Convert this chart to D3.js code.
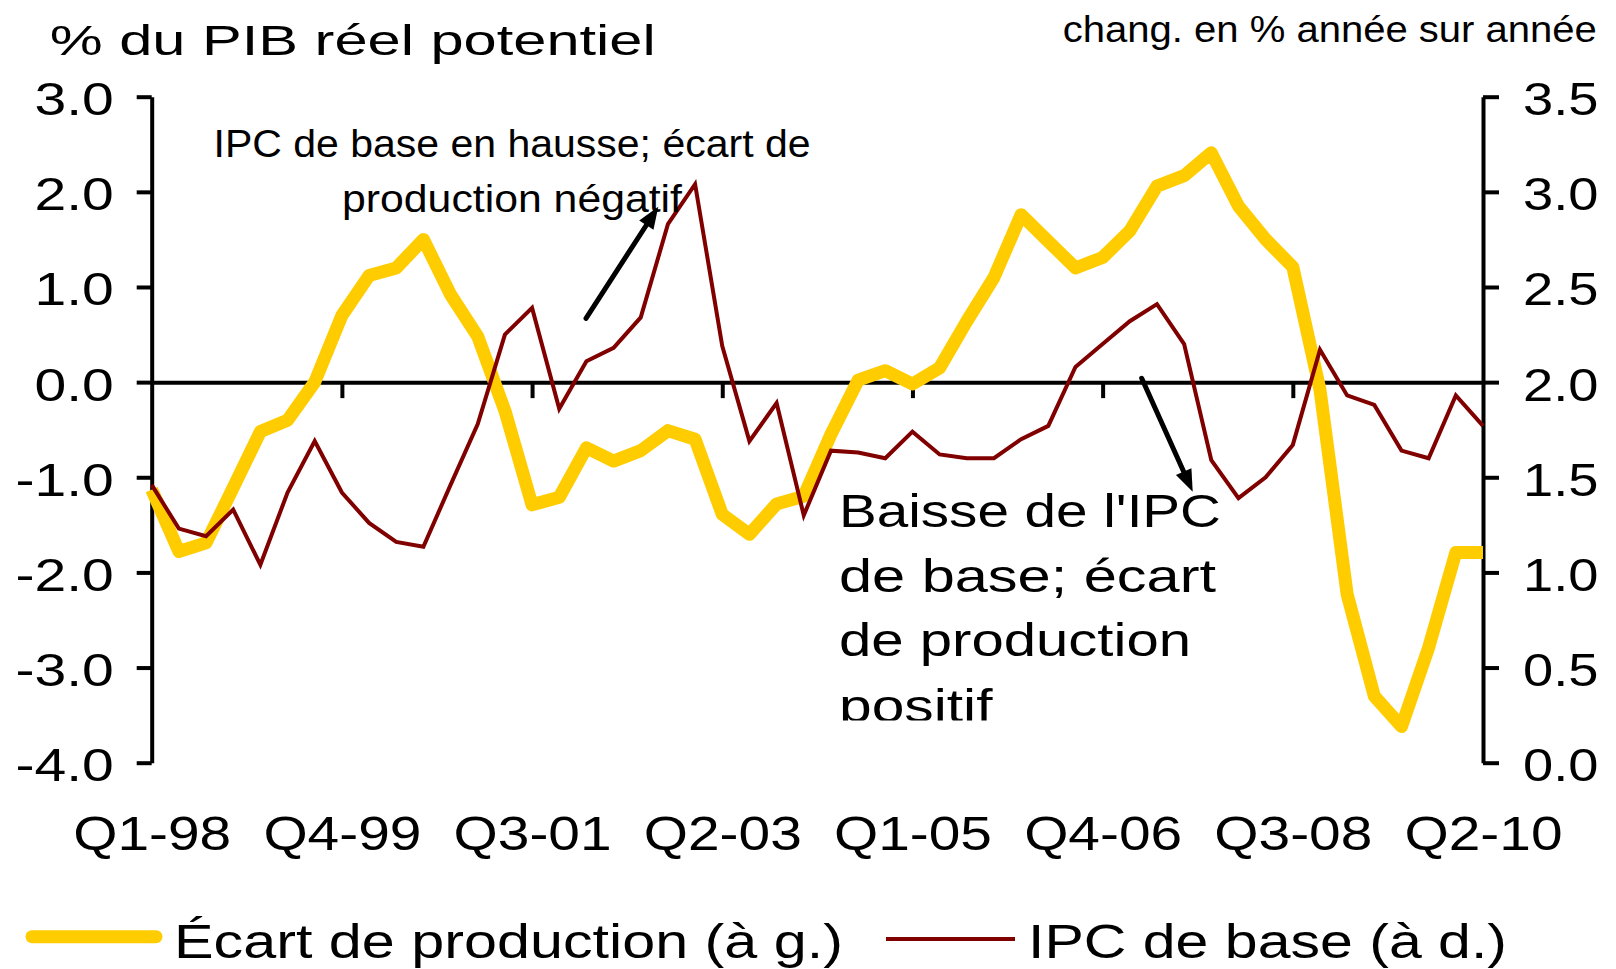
<!DOCTYPE html>
<html>
<head>
<meta charset="utf-8">
<script src="https://cdn.jsdelivr.net/npm/d3@7"></script>
<style>
body{margin:0;background:#fff;}
text{font-family:"Liberation Sans",Arial,sans-serif;fill:#000;}
</style>
</head>
<body>
<svg id="chart"></svg>
<script>
// quarters Q1-98 .. Q2-10
quarters=["Q1-98","Q2-98","Q3-98","Q4-98","Q1-99","Q2-99","Q3-99","Q4-99",
          "Q1-00","Q2-00","Q3-00","Q4-00","Q1-01","Q2-01","Q3-01","Q4-01",
          "Q1-02","Q2-02","Q3-02","Q4-02","Q1-03","Q2-03","Q3-03","Q4-03",
          "Q1-04","Q2-04","Q3-04","Q4-04","Q1-05","Q2-05","Q3-05","Q4-05",
          "Q1-06","Q2-06","Q3-06","Q4-06","Q1-07","Q2-07","Q3-07","Q4-07",
          "Q1-08","Q2-08","Q3-08","Q4-08","Q1-09","Q2-09","Q3-09","Q4-09",
          "Q1-10","Q2-10"];
labelQuarters=["Q1-98","Q4-99","Q3-01","Q2-03","Q1-05","Q4-06","Q3-08","Q2-10"];
// output gap, % of potential real GDP (left axis)
ecart=[-1.13,-1.78,-1.69,-1.11,-0.52,-0.40,0.00,0.70,1.12,1.20,
       1.50,0.92,0.48,-0.30,-1.29,-1.21,-0.69,-0.83,-0.72,-0.51,
       -0.60,-1.39,-1.60,-1.28,-1.20,-0.55,0.02,0.12,-0.02,0.15,
       0.64,1.10,1.76,1.48,1.20,1.31,1.59,2.06,2.17,2.41,
       1.85,1.50,1.21,-0.08,-2.23,-3.30,-3.62,-2.79,-1.79,-1.79];
// core CPI, y/y % change (right axis)
ipc=[1.46,1.23,1.19,1.33,1.04,1.42,1.69,1.42,1.26,1.16,
     1.135,1.46,1.78,2.25,2.39,1.86,2.11,2.18,2.34,2.83,
     3.04,2.19,1.69,1.89,1.30,1.64,1.63,1.60,1.74,1.62,
     1.60,1.60,1.70,1.77,2.08,2.20,2.32,2.41,2.20,1.59,
     1.39,1.50,1.67,2.17,1.93,1.88,1.64,1.60,1.93,1.77];
leftTicks=[-4,-3,-2,-1,0,1,2,3];
rightTicks=[0,0.5,1,1.5,2,2.5,3,3.5];

var W=1616,H=969;
var X0=151.7,X1=1483,Y0=96.7,Y1=762.7;
var YELLOW="#FFCC00",RED="#800000";

var svg=d3.select("#chart").attr("width",W).attr("height",H);

var x=d3.scalePoint().domain(quarters).range([X0,X1]);
var yL=d3.scaleLinear().domain([-4,3]).range([Y1,Y0]);
var yR=d3.scaleLinear().domain([0,3.5]).range([Y1,Y0]);

function fit(sel,w){
     sel.attr("textLength",w).attr("lengthAdjust","spacingAndGlyphs");
}
function stretch(sel,k){
     sel.each(function(){
          var w=this.getComputedTextLength();
          d3.select(this).attr("textLength",w*k).attr("lengthAdjust","spacingAndGlyphs");
     });
}

// left axis
var gL=svg.append("g").attr("transform","translate("+X0+",0)")
     .call(d3.axisLeft(yL).tickValues(leftTicks).tickSize(15).tickSizeOuter(0).tickPadding(23)
          .tickFormat(function(d){return d.toFixed(1)}));
gL.selectAll("text").attr("font-size",46).attr("dy","0.39em");
stretch(gL.selectAll("text"),1.24);

// right axis
var gR=svg.append("g").attr("transform","translate("+X1+",0)")
     .call(d3.axisRight(yR).tickValues(rightTicks).tickSize(16).tickSizeOuter(0).tickPadding(24)
          .tickFormat(function(d){return d.toFixed(1)}));
gR.selectAll("text").attr("font-size",46).attr("dy","0.39em");
stretch(gR.selectAll("text"),1.18);

// zero line with tick marks
var gX=svg.append("g").attr("transform","translate(0,"+yL(0)+")")
     .call(d3.axisBottom(x).tickValues(labelQuarters.slice(1,-1)).tickSize(16).tickSizeOuter(0).tickFormat(""));

// category labels
var gXL=svg.append("g").attr("transform","translate(0,"+Y1+")")
     .call(d3.axisBottom(x).tickValues(labelQuarters).tickSize(0));
gXL.select(".domain").remove();
gXL.selectAll("text").attr("font-size",49).attr("y",87).attr("dy",0);
stretch(gXL.selectAll("text"),1.16);

svg.selectAll(".domain,.tick line").attr("stroke","#000").attr("stroke-width",4);

// lines
var lineL=d3.line().x(function(d,i){return x(quarters[i])}).y(function(d){return yL(d)});
var lineR=d3.line().x(function(d,i){return x(quarters[i])}).y(function(d){return yR(d)});

svg.append("path").datum(ecart)
     .attr("d",lineL).attr("fill","none").attr("stroke",YELLOW)
     .attr("stroke-width",13).attr("stroke-linejoin","round");
svg.append("path").datum(ipc)
     .attr("d",lineR).attr("fill","none").attr("stroke",RED)
     .attr("stroke-width",4).attr("stroke-linejoin","miter");

// titles
fit(svg.append("text").attr("x",49.7).attr("y",55).attr("font-size",42)
     .text("% du PIB réel potentiel"),606);
fit(svg.append("text").attr("x",1062.8).attr("y",41.7).attr("font-size",37)
     .text("chang. en % année sur année"),534);

// annotation 1
[["IPC de base en hausse; écart de",156.7,597],["production négatif",211.7,340]].forEach(function(l){
     fit(svg.append("text").attr("x",512-l[2]/2).attr("y",l[1]).attr("font-size",38).text(l[0]),l[2]);
});

// annotation 2 (box clipped at bottom)
svg.append("clipPath").attr("id","boxclip").append("rect")
     .attr("x",830).attr("y",460).attr("width",420).attr("height",260.5);
var ann=svg.append("g").attr("clip-path","url(#boxclip)");
[["Baisse de l'IPC",526.7,382],["de base; écart",591.7,377],["de production",656,352],["positif",722,153.5]].forEach(function(l){
     fit(ann.append("text").attr("x",839).attr("y",l[1]).attr("font-size",46).text(l[0]),l[2]);
});

// arrows
function arrow(x1,y1,x2,y2){
     var dx=x2-x1,dy=y2-y1,len=Math.sqrt(dx*dx+dy*dy),ux=dx/len,uy=dy/len;
     var hl=22,hw=8.5;
     var bx=x2-ux*hl,by=y2-uy*hl;
     svg.append("line").attr("x1",x1).attr("y1",y1).attr("x2",bx+ux*2).attr("y2",by+uy*2)
          .attr("stroke","#000").attr("stroke-width",5).attr("stroke-linecap","round");
     svg.append("path")
          .attr("d","M"+x2+","+y2+"L"+(bx-uy*hw)+","+(by+ux*hw)+"L"+(bx+uy*hw)+","+(by-ux*hw)+"Z")
          .attr("fill","#000");
}
arrow(586,318.3,658.3,206.7);
arrow(1141.7,378.3,1192.7,491.7);

// legend
svg.append("line").attr("x1",32).attr("x2",156).attr("y1",936.7).attr("y2",936.7)
     .attr("stroke",YELLOW).attr("stroke-width",13).attr("stroke-linecap","round");
fit(svg.append("text").attr("x",174).attr("y",957.5).attr("font-size",49)
     .text("Écart de production (à g.)"),669);
svg.append("line").attr("x1",886).attr("x2",1015).attr("y1",939).attr("y2",939)
     .attr("stroke",RED).attr("stroke-width",4);
fit(svg.append("text").attr("x",1028).attr("y",957.5).attr("font-size",49)
     .text("IPC de base (à d.)"),479);
</script>
</body>
</html>
